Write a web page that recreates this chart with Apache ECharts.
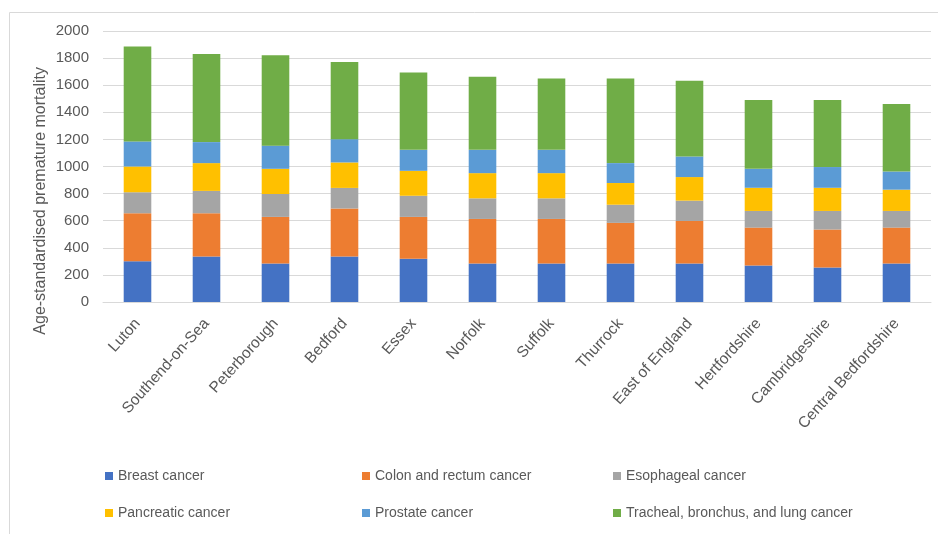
<!DOCTYPE html>
<html>
<head>
<meta charset="utf-8">
<script src="https://cdn.jsdelivr.net/npm/echarts@6/dist/echarts.min.js"></script>
<style>
  html, body { margin: 0; padding: 0; background: #fff; }
  #chart { width: 938px; height: 534px; }
</style>
</head>
<body>
<div id="chart"></div>
<script>
// data
const areas = ["Luton", "Southend-on-Sea", "Peterborough", "Bedford", "Essex", "Norfolk",
  "Suffolk", "Thurrock", "East of England", "Hertfordshire", "Cambridgeshire", "Central Bedfordshire"];

const breast   = [300, 335, 285, 335, 320, 285, 285, 285, 285, 270, 255, 285];
const colon    = [355, 320, 343, 355, 308, 328, 328, 299, 313, 279, 280, 264];
const esoph    = [155, 165, 169, 152, 156, 152, 152, 134, 150, 123, 137, 123];
const pancreas = [190, 205, 186, 188, 184, 186, 186, 160, 174, 171, 171, 157];
const prostate = [185, 155, 171, 172, 155, 172, 172, 147, 152, 140, 153, 134];
const lung     = [700, 650, 667, 569, 571, 539, 527, 625, 558, 507, 494, 498];

const seriesNames = ["Breast cancer", "Colon and rectum cancer", "Esophageal cancer",
  "Pancreatic cancer", "Prostate cancer", "Tracheal, bronchus, and lung cancer"];
const seriesData = [breast, colon, esoph, pancreas, prostate, lung];
const colors = ["#4472C4", "#ED7D31", "#A5A5A5", "#FFC000", "#5B9BD5", "#70AD47"];

const font = "'Liberation Sans', sans-serif";
const textGrey = "#595959";

// one legend per item so they line up in a 3x2 grid like the original
const legendPos = [
  { left: 100, top: 464 }, { left: 357, top: 464 }, { left: 608, top: 464 },
  { left: 100, top: 501 }, { left: 357, top: 501 }, { left: 608, top: 501 },
];
const legends = seriesNames.map((name, i) => ({
  data: [name],
  left: legendPos[i].left,
  top: legendPos[i].top,
  icon: "rect",
  itemWidth: 8,
  itemHeight: 8,
  itemGap: 4,
  textStyle: { color: textGrey, fontSize: 14, fontFamily: font },
}));

const chart = echarts.init(document.getElementById("chart"));
chart.setOption({
  animation: false,
  color: colors,
  grid: { left: 103, right: 7, top: 31, bottom: 232 },
  legend: legends,
  graphic: [
    {
      // chart frame, only its top and left edges fall inside the picture
      type: "rect",
      left: 7,
      top: 10,
      shape: { width: 1000, height: 600 },
      style: { fill: "none", stroke: "#d9d9d9", lineWidth: 1 },
      silent: true,
    },
    {
      type: "text",
      left: 33,
      top: 67,
      rotation: Math.PI / 2,
      style: {
        text: "Age-standardised premature mortality",
        fill: textGrey,
        fontSize: 16,
        fontFamily: font,
      },
    },
  ],
  xAxis: {
    type: "category",
    data: areas,
    axisLine: { lineStyle: { color: "#d9d9d9" } },
    axisTick: { show: false },
    axisLabel: {
      rotate: 48,
      interval: 0,
      color: textGrey,
      fontSize: 15.5,
      fontFamily: font,
      margin: 19,
    },
  },
  yAxis: {
    type: "value",
    min: 0,
    max: 2000,
    interval: 200,
    axisLine: { show: false },
    axisTick: { show: false },
    splitLine: { lineStyle: { color: "#d9d9d9", width: 1 } },
    axisLabel: {
      color: textGrey,
      fontSize: 15,
      fontFamily: font,
      margin: 14,
      formatter: (v) => String(v),
    },
  },
  series: seriesNames.map((name, i) => ({
    name: name,
    type: "bar",
    stack: "total",
    barWidth: "40%",
    data: seriesData[i],
  })),
});
</script>
</body>
</html>
